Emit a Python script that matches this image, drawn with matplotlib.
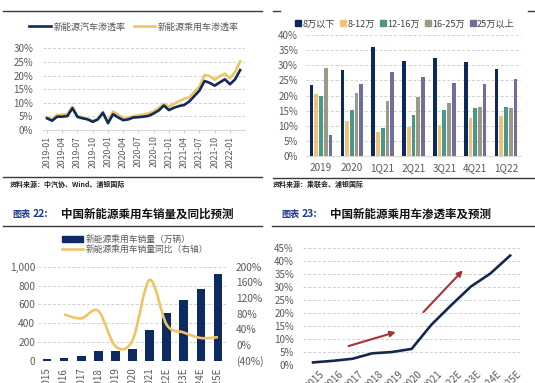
import matplotlib
matplotlib.use('Agg')
import matplotlib.pyplot as plt
import matplotlib.transforms as mtrans
from matplotlib.path import Path
from matplotlib.patches import PathPatch, Patch
from matplotlib.lines import Line2D
from matplotlib.ticker import FuncFormatter, FixedLocator

plt.rcParams['font.family'] = ['Noto Sans CJK SC', 'DejaVu Sans']

# ---------------- data ----------------
# top-left: monthly penetration, 2019-01 .. 2022-03 (%)
nev_rate = [4.3, 3.4, 4.9, 4.9, 5.1, 8.0, 4.8, 4.3, 3.9, 3.0, 3.9, 6.4,
            2.5, 5.8, 4.6, 3.6, 3.9, 4.6, 4.7, 4.9, 5.2, 6.1, 7.2, 9.0,
            7.3, 8.2, 8.8, 9.2, 10.5, 12.5, 14.5, 18.0, 17.3, 16.3, 17.5, 18.6,
            16.8, 18.6, 22.0]
pv_rate = [4.6, 3.9, 5.6, 5.6, 5.9, 8.6, 5.1, 4.6, 4.1, 3.4, 4.1, 5.6,
           3.3, 6.8, 5.6, 4.4, 4.6, 5.1, 5.4, 5.7, 6.1, 6.9, 8.1, 9.6,
           8.6, 9.6, 10.6, 11.5, 12.0, 14.0, 16.0, 20.2, 19.8, 18.5, 19.8, 20.7,
           19.0, 21.3, 25.2]
tl_tick_pos = [0, 3, 6, 9, 12, 15, 18, 21, 24, 27, 30, 33, 36]
tl_tick_labels = ['2019-01', '2019-04', '2019-07', '2019-10', '2020-01', '2020-04',
                  '2020-07', '2020-10', '2021-01', '2021-04', '2021-07', '2021-10',
                  '2022-01']
tl_series = ['新能源汽车渗透率', '新能源乘用车渗透率']

# top-right: penetration by price band (%)
tr_groups = ['2019', '2020', '1Q21', '2Q21', '3Q21', '4Q21', '1Q22']
tr_bands = ['8万以下', '8-12万', '12-16万', '16-25万', '25万以上']
band_below8 = [23.5, 28.3, 35.9, 31.4, 32.4, 31.0, 28.7]
band_8_12 = [20.4, 11.7, 8.0, 9.7, 10.3, 12.7, 13.3]
band_12_16 = [20.0, 15.2, 9.4, 13.4, 15.3, 15.9, 16.3]
band_16_25 = [29.0, 20.9, 18.3, 19.5, 17.6, 16.3, 16.0]
band_above25 = [6.9, 23.8, 27.9, 26.0, 24.0, 23.8, 25.5]

# bottom-left: NEV passenger car sales (10k units) & YoY (%)
bl_years = ['2015', '2016', '2017', '2018', '2019', '2020', '2021',
            '2022E', '2023E', '2024E', '2025E']
bl_sales = [18, 33, 55, 103, 106, 120, 331, 505, 650, 765, 920]
bl_yoy = [None, 78, 68, 87, -3, 12, 166, 52, 32, 18, 20]
bl_series = ['新能源乘用车销量（万辆）', '新能源乘用车销量同比（右轴）']

# bottom-right: NEV passenger car penetration (%)
br_years = ['2015', '2016', '2017', '2018', '2019', '2020', '2021',
            '2022E', '2023E', '2024E', '2025E']
br_pen = [1.0, 1.6, 2.4, 4.5, 5.0, 6.2, 15.5, 23.0, 30.2, 35.3, 42.2]
# trend arrows (x index, value %)
arrow1 = [(1.8, 7.3), (4.2, 12.7)]
arrow2 = [(5.6, 20.4), (7.6, 36.5)]

# ---------------- styling ----------------
W, H = 535, 383
fig = plt.figure(figsize=(W / 100, H / 100), dpi=100)
fig.patch.set_facecolor('white')

NAVY = '#0f2b5b'
GOLD = '#f0c462'
TICK = '#595959'
GRID = '#d0d0d0'


def box(x0, y0, x1, y1):
    return [x0 / W, 1 - y1 / H, (x1 - x0) / W, (y1 - y0) / H]


def fx(x):
    return x / W


def fy(y):
    return 1 - y / H


def hline(x0, x1, y, lw=1.0, color='#3a3a3a'):
    fig.add_artist(Line2D([fx(x0), fx(x1)], [fy(y), fy(y)], color=color, lw=lw))


def clean(ax):
    for s in ['top', 'right', 'left']:
        ax.spines[s].set_visible(False)
    ax.spines['bottom'].set_color('#d9d9d9')
    ax.set_facecolor('none')


pct = FuncFormatter(lambda v, p: f'{v:.0f}%')

# rules
hline(3, 262, 11)
hline(273, 280, 11)
hline(528, 535, 11)
hline(3, 262, 177)
hline(273, 535, 178)
hline(3, 262, 226)
hline(272, 535, 226)

# sources
fig.text(fx(10), fy(184), '资料来源：中汽协、Wind、浦银国际', fontsize=5, fontweight='bold',
         color='#222222', va='center')
fig.text(fx(273), fy(184), '资料来源：乘联会、浦银国际', fontsize=5, fontweight='bold',
         color='#222222', va='center')

# titles
BLUE_T = '#1d3a8f'
for x0, num, title in [(12, '22:', '中国新能源乘用车销量及同比预测'),
                       (281, '23:', '中国新能源乘用车渗透率及预测')]:
    fig.text(fx(x0), fy(214), '图表', fontsize=6.6, fontweight='bold', color=BLUE_T, va='center')
    fig.text(fx(x0 + 21), fy(214), num, fontsize=7.5, fontweight='bold', color=BLUE_T, va='center')
    fig.text(fx(x0 + 49), fy(214), title, fontsize=8.3,
             fontweight='bold', color='#111111', va='center')

# ---------------- top-left ----------------
ax1 = fig.add_axes(box(43, 48.3, 245, 130))
clean(ax1)
x1 = list(range(len(nev_rate)))
ax1.plot(x1, pv_rate, color=GOLD, lw=1.9, solid_joinstyle='round', label=tl_series[1])
ax1.plot(x1, nev_rate, color=NAVY, lw=1.9, solid_joinstyle='round', label=tl_series[0])
ax1.set_xlim((43 - 47) / 5.083, (245 - 47) / 5.083)
ax1.set_ylim(0, 30)
ax1.yaxis.set_major_locator(FixedLocator([0, 5, 10, 15, 20, 25, 30]))
ax1.yaxis.set_major_formatter(pct)
ax1.grid(axis='y', color=GRID, ls=(0, (3, 2)), lw=0.7)
ax1.set_xticks(tl_tick_pos)
ax1.set_xticklabels(tl_tick_labels, rotation=90)
ax1.tick_params(axis='y', length=0, pad=7, labelsize=7, labelcolor=TICK)
ax1.tick_params(axis='x', length=2.5, width=0.6, color='#bfbfbf', pad=1.5,
                labelsize=6.3, labelcolor=TICK)
h1 = [Line2D([], [], color=NAVY, lw=1.9), Line2D([], [], color=GOLD, lw=1.9)]
fig.legend(h1, tl_series, loc='center', bbox_to_anchor=(fx(134), fy(27)), ncol=2,
           frameon=False, fontsize=6.5, handlelength=2.4, handletextpad=0.3,
           columnspacing=0.9, labelcolor=TICK)

# ---------------- top-right ----------------
ax2 = fig.add_axes(box(305.6, 35, 521.4, 156))
clean(ax2)
bands = [band_below8, band_8_12, band_12_16, band_16_25, band_above25]
bcolors = ['#0b2a5b', '#ebc478', '#4a9986', '#9b9a88', '#6e6f9c']
gx = list(range(len(tr_groups)))
pitch, bw = 0.152, 0.12
for i, (vals, c) in enumerate(zip(bands, bcolors)):
    ax2.bar([g + (i - 2) * pitch for g in gx], vals, width=bw, color=c, zorder=3)
ax2.set_xlim(-0.5, 6.5)
ax2.set_ylim(0, 40)
ax2.yaxis.set_major_locator(FixedLocator(list(range(0, 41, 5))))
ax2.yaxis.set_major_formatter(pct)
ax2.grid(axis='y', color=GRID, ls=(0, (3, 2)), lw=0.7, zorder=0)
ax2.set_xticks(gx)
ax2.set_xticklabels(tr_groups)
ax2.tick_params(axis='y', length=0, pad=5.5, labelsize=7, labelcolor=TICK)
ax2.tick_params(axis='x', length=0, pad=5, labelsize=7.2, labelcolor=TICK)
h2 = [Patch(color=c) for c in bcolors]
fig.legend(h2, tr_bands, loc='center', bbox_to_anchor=(fx(405), fy(24)), ncol=5,
           frameon=False, fontsize=6.6, handlelength=0.65, handleheight=0.65,
           handletextpad=0.15, columnspacing=0.55, labelcolor='#404040')

# ---------------- bottom-left ----------------
ax3 = fig.add_axes(box(38, 266.7, 227, 360.7))
clean(ax3)
ax3.spines['bottom'].set_visible(False)
bx = list(range(len(bl_years)))
ax3.bar(bx, bl_sales, width=0.5, color='#0d2a62', zorder=3)
ax3.set_xlim(-0.53, 10.53)
ax3.set_ylim(0, 1000)
ax3.yaxis.set_major_locator(FixedLocator([0, 200, 400, 600, 800, 1000]))
ax3.yaxis.set_major_formatter(FuncFormatter(lambda v, p: f'{v:,.0f}'))
ax3.grid(axis='y', color=GRID, ls=(0, (3, 2)), lw=0.7, zorder=0)
ax3.set_xticks(bx)
ax3.set_xticklabels(bl_years, rotation=90)
ax3.tick_params(axis='y', length=0, pad=2, labelsize=7.3, labelcolor=TICK)
ax3.tick_params(axis='x', length=0, pad=5, labelsize=7, labelcolor=TICK)

ax3r = ax3.twinx()
clean(ax3r)
ax3r.spines['bottom'].set_visible(False)
ax3r.set_ylim(-40, 200)
ax3r.yaxis.set_major_locator(FixedLocator([-40, 0, 40, 80, 120, 160, 200]))
ax3r.yaxis.set_major_formatter(FuncFormatter(
    lambda v, p: f'({abs(v):.0f}%)' if v < 0 else f'{v:.0f}%'))
ax3r.tick_params(axis='y', length=0, pad=6.5, labelsize=7.3, labelcolor=TICK)

# smoothed yoy line (Catmull-Rom as cubic Bezier, like Excel smoothing)
pts = [(i, v) for i, v in enumerate(bl_yoy) if v is not None]
verts = [pts[0]]
codes = [Path.MOVETO]
for k in range(len(pts) - 1):
    p0 = pts[k - 1] if k > 0 else pts[k]
    p1, p2 = pts[k], pts[k + 1]
    p3 = pts[k + 2] if k + 2 < len(pts) else pts[k + 1]
    c1 = (p1[0] + (p2[0] - p0[0]) / 6, p1[1] + (p2[1] - p0[1]) / 6)
    c2 = (p2[0] - (p3[0] - p1[0]) / 6, p2[1] - (p3[1] - p1[1]) / 6)
    verts += [c1, c2, p2]
    codes += [Path.CURVE4] * 3
ax3r.add_patch(PathPatch(Path(verts, codes), facecolor='none', edgecolor=GOLD,
                         lw=1.9, zorder=4))

h3 = [Patch(color='#0d2a62'), Line2D([], [], color=GOLD, lw=1.9)]
fig.legend(h3, bl_series, loc='upper left', bbox_to_anchor=(fx(54), fy(227)), ncol=1,
           frameon=False, fontsize=6.3, handlelength=2.45, handleheight=0.75,
           handletextpad=0.3, labelspacing=0.12, labelcolor=TICK)

# ---------------- bottom-right ----------------
ax4 = fig.add_axes(box(303, 248.3, 520, 365))
clean(ax4)
ax4.spines['bottom'].set_visible(False)
rx = list(range(len(br_years)))
ax4.plot(rx, br_pen, color='#14284d', lw=1.9, solid_joinstyle='round', zorder=4)
ax4.set_xlim(-0.51, 10.5)
ax4.set_ylim(0, 45)
ax4.yaxis.set_major_locator(FixedLocator(list(range(0, 46, 5))))
ax4.yaxis.set_major_formatter(pct)
ax4.grid(axis='y', color=GRID, ls=(0, (3, 2)), lw=0.7, zorder=0)
ax4.set_xticks(rx)
ax4.set_xticklabels(br_years, rotation=45, ha='right', va='top', rotation_mode='anchor')
ax4.tick_params(axis='y', length=0, pad=6.5, labelsize=7, labelcolor=TICK)
ax4.tick_params(axis='x', length=0, pad=3, labelsize=7, labelcolor=TICK)
off = mtrans.ScaledTranslation(6 / 100, 0, fig.dpi_scale_trans)
for lab in ax4.get_xticklabels():
    lab.set_transform(lab.get_transform() + off)
for a in (arrow1, arrow2):
    ax4.annotate('', xy=a[1], xytext=a[0],
                 arrowprops=dict(arrowstyle='-|>', color='#a83434', lw=1.5,
                                 mutation_scale=8, shrinkA=0, shrinkB=0), zorder=5)

fig.savefig('out.png', dpi=100, facecolor='white')
